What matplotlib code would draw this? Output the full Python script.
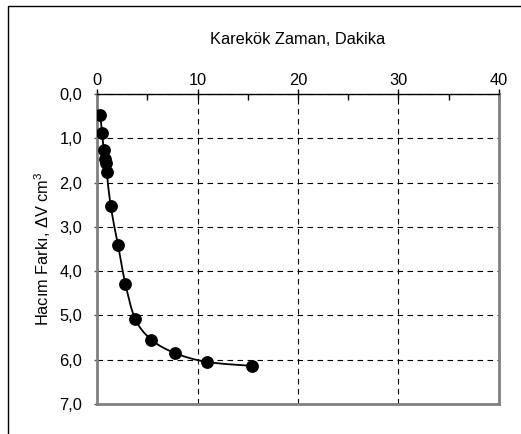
import numpy as np
import matplotlib
matplotlib.use("Agg")
import matplotlib.pyplot as plt
from matplotlib.path import Path
from matplotlib.patches import PathPatch, Rectangle
from matplotlib.ticker import MultipleLocator, FuncFormatter

plt.rcParams['font.family'] = ['Liberation Sans', 'DejaVu Sans']
plt.rcParams['mathtext.fontset'] = 'custom'
plt.rcParams['mathtext.rm'] = 'Liberation Sans'
plt.rcParams['mathtext.it'] = 'Liberation Sans'

# Square root of time (min) and volume difference (cm^3)
sqrt_time = [0.33, 0.50, 0.67, 0.77, 0.87, 0.97, 1.36, 2.10, 2.83, 3.82, 5.42, 7.75, 10.94, 15.46]
volume_diff = [0.48, 0.87, 1.26, 1.47, 1.55, 1.75, 2.53, 3.42, 4.29, 5.09, 5.55, 5.85, 6.05, 6.14]

x_title = "Karekök Zaman, Dakika"
y_title = "Hacım Farkı, ΔV cm$^3$"

FS = 11.8

fig = plt.figure(figsize=(5.21, 4.34), dpi=100)
ax = fig.add_axes([97 / 521, 1 - 404 / 434, (499 - 97) / 521, (404 - 94) / 434])

ax.set_xlim(0, 40)
ax.set_ylim(7.0, 0.0)

# smoothed connecting line (cardinal spline as Bezier segments)
pts = np.column_stack([sqrt_time, volume_diff])
verts = [pts[0]]
codes = [Path.MOVETO]
n = len(pts)
for i in range(n - 1):
    p0 = pts[i - 1] if i > 0 else pts[i]
    p1 = pts[i]
    p2 = pts[i + 1]
    p3 = pts[i + 2] if i + 2 < n else pts[i + 1]
    c1 = p1 + (p2 - p0) / 6.0
    c2 = p2 - (p3 - p1) / 6.0
    verts += [c1, c2, p2]
    codes += [Path.CURVE4] * 3
ax.add_patch(PathPatch(Path(verts, codes), facecolor='none', edgecolor='black',
                       linewidth=1.3, zorder=3))
ax.plot(sqrt_time, volume_diff, linestyle='none', marker='o', markersize=8.2,
        color='black', zorder=4)

# grid
ax.xaxis.set_major_locator(MultipleLocator(10))
ax.xaxis.set_minor_locator(MultipleLocator(5))
ax.yaxis.set_major_locator(MultipleLocator(1.0))
ax.grid(True, which='major', color='black', linestyle=(0, (5, 4)), linewidth=0.8)
ax.set_axisbelow(True)

ax.xaxis.tick_top()
ax.xaxis.set_label_position('top')
ax.yaxis.set_major_formatter(FuncFormatter(lambda v, p: f"{v:.1f}".replace('.', ',')))
ax.xaxis.set_major_formatter(FuncFormatter(lambda v, p: f"{v:.0f}"))

ax.tick_params(axis='x', which='major', direction='inout', length=7, width=1,
               labelsize=FS, pad=1, color='black')
ax.tick_params(axis='x', which='minor', direction='in', length=4, width=1, color='black')
ax.tick_params(axis='y', which='major', direction='out', length=2.5, width=1,
               labelsize=FS, pad=8, color='#555555')

for s in ['left', 'right', 'bottom']:
    ax.spines[s].set_color('#808080')
    ax.spines[s].set_linewidth(2)
ax.spines['top'].set_color('black')
ax.spines['top'].set_linewidth(1)

ax.set_xlabel(x_title, fontsize=FS, labelpad=21)
ax.set_ylabel(y_title, fontsize=FS, labelpad=5)

# chart area border
fig.patches.append(Rectangle((7.5 / 521, -0.5), 2.0, 1.5 - 5.5 / 434,
                             transform=fig.transFigure, facecolor='none',
                             edgecolor='black', linewidth=1, clip_on=False))

fig.savefig("out.png", dpi=100)
